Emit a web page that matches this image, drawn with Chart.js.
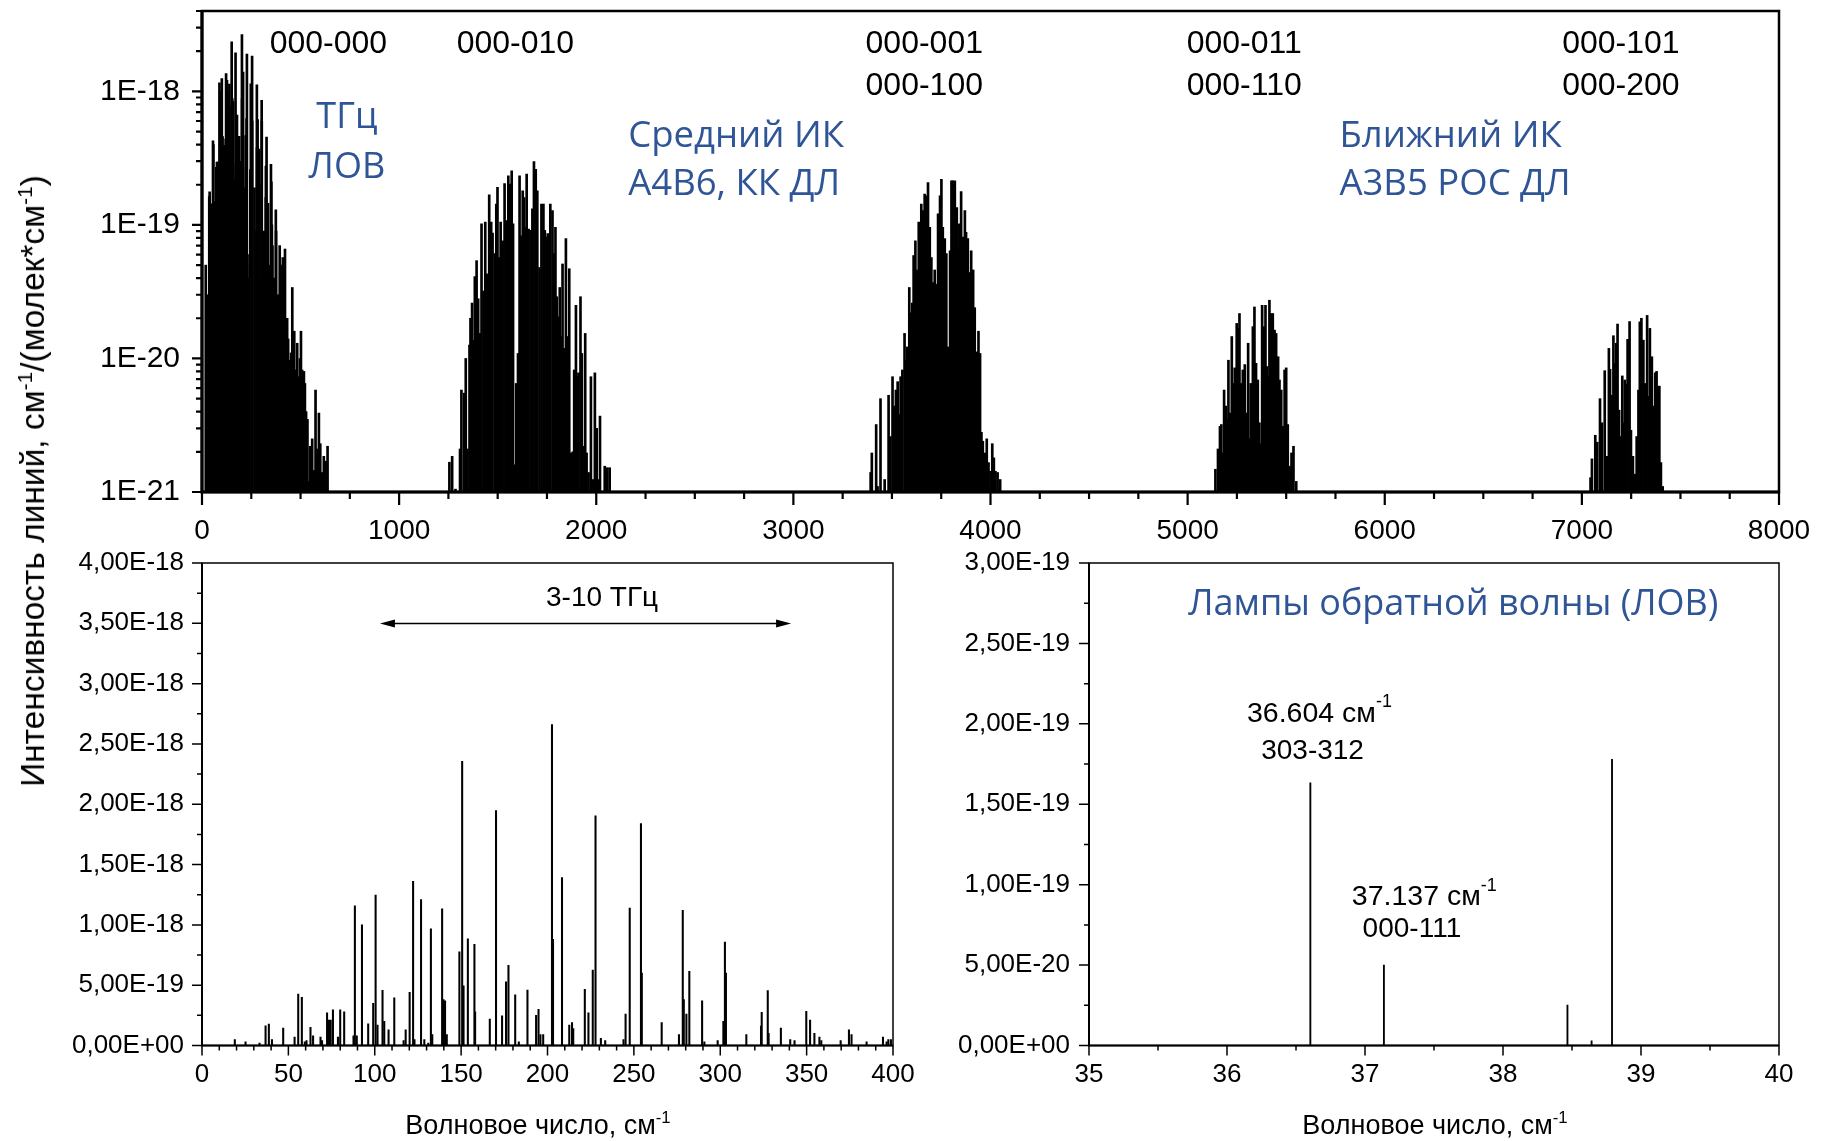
<!DOCTYPE html>
<html lang="ru">
<head>
<meta charset="utf-8">
<title>Спектр линий</title>
<script src="https://cdn.jsdelivr.net/npm/chart.js@4.4.1/dist/chart.umd.min.js"></script>
<style>
  html, body { margin: 0; padding: 0; background: #fff; }
  body { width: 1823px; height: 1141px; position: relative; overflow: hidden; font-family: "Liberation Sans", Arial, sans-serif; }
  canvas { position: absolute; }
  .title { position: absolute; white-space: nowrap; color: #000; }
  .sup { font-size: 62%; vertical-align: 0.6em; line-height: 0; }
  #yTitle { left: 33px; top: 481px; font-size: 33.5px; transform: translate(-50%, -50%) rotate(-90deg); }
  .xTitle { top: 1125px; font-size: 27px; transform: translate(-50%, -50%); }
</style>
</head>
<body>
<canvas id="topChart" width="1823" height="560" style="left:0;top:0"></canvas>
<canvas id="thzChart" width="960" height="601" style="left:0;top:540px"></canvas>
<canvas id="bwoChart" width="903" height="601" style="left:920px;top:540px"></canvas>
<div class="title" id="yTitle">Интенсивность линий, см<span class="sup">-1</span>/(молек*см<span class="sup">-1</span>)</div>
<div class="title xTitle" style="left:538px">Волновое число, см<span class="sup">-1</span></div>
<div class="title xTitle" style="left:1435px">Волновое число, см<span class="sup">-1</span></div>
<script>
// линии вращательного спектра 0-400 см-1 (нижний левый график), [волновое число, интенсивность]
const thzLines = [
    [19.0, 5.0e-20], [25.2, 3.0e-20], [33.3, 2.0e-20], [36.8, 1.63e-19], [38.7, 1.77e-19], [40.5, 5.0e-20],
    [47.0, 1.44e-19], [53.6, 7.0e-20], [55.7, 4.27e-19], [57.8, 4.0e-19], [59.5, 3.0e-20], [60.5, 4.0e-20],
    [62.8, 1.5e-19], [64.3, 8.0e-20], [68.6, 7.0e-20], [69.5, 4.0e-20], [72.4, 2.7e-19], [73.5, 2.1e-19],
    [74.5, 2.1e-19], [75.8, 2.95e-19], [78.7, 7.0e-20], [80.0, 2.95e-19], [82.3, 2.8e-19], [87.7, 8.0e-20],
    [88.5, 1.158e-18], [89.6, 8.0e-20], [92.6, 1.0e-18], [96.2, 1.8e-19], [99.1, 3.5e-19], [100.5, 1.246e-18],
    [101.6, 1.7e-19], [104.5, 4.58e-19], [105.5, 2.0e-19], [108.0, 1.3e-19], [111.3, 3.95e-19], [116.7, 4.0e-20],
    [117.9, 1.3e-19], [120.2, 4.4e-19], [122.2, 1.362e-18], [123.0, 5.0e-20], [126.8, 1.21e-18], [128.7, 5.0e-20],
    [131.0, 2.0e-20], [132.5, 9.68e-19], [133.3, 9.0e-20], [139.0, 1.133e-18], [139.8, 3.8e-19], [140.7, 3.7e-19],
    [141.7, 9.0e-20], [149.0, 7.77e-19], [150.6, 2.355e-18], [151.4, 4.94e-19], [153.9, 8.85e-19], [157.7, 8.38e-19],
    [158.1, 2.8e-19], [166.6, 2.2e-19], [170.2, 1.947e-18], [173.7, 2.46e-19], [176.0, 5.27e-19], [177.4, 6.65e-19],
    [181.3, 4.2e-19], [183.4, 3.0e-20], [188.4, 4.6e-19], [193.4, 2.5e-19], [194.8, 3.0e-19], [195.9, 9.0e-20],
    [197.5, 9.0e-20], [202.6, 2.66e-18], [203.2, 8.8e-19], [208.4, 1.393e-18], [212.6, 1.7e-19], [214.2, 1.9e-19],
    [214.9, 1.4e-19], [221.6, 4.66e-19], [223.7, 2.7e-19], [226.2, 6.26e-19], [227.8, 1.905e-18], [230.9, 6.0e-20],
    [233.4, 4.0e-20], [244.0, 5.0e-20], [245.2, 2.6e-19], [247.6, 1.139e-18], [254.1, 1.84e-18], [254.6, 6.0e-19],
    [266.1, 1.9e-19], [276.1, 9.0e-20], [278.3, 1.12e-18], [278.9, 3.8e-19], [280.4, 2.6e-19], [282.1, 6.15e-19],
    [289.5, 3.7e-19], [290.8, 3.0e-20], [298.5, 4.0e-20], [301.8, 2.0e-19], [302.7, 8.58e-19], [303.3, 6.0e-19],
    [315.1, 9.0e-20], [323.6, 1.6e-19], [324.0, 2.76e-19], [327.5, 4.55e-19], [328.0, 1.0e-19], [335.1, 1.45e-19],
    [340.5, 5.0e-20], [343.0, 4.0e-20], [349.8, 2.84e-19], [352.0, 2.1e-19], [354.5, 1.0e-19], [357.4, 7.0e-20],
    [358.5, 4.0e-20], [369.7, 4.0e-20], [374.5, 1.3e-19], [376.0, 9.0e-20], [384.7, 3.0e-20], [394.2, 7.0e-20],
    [396.3, 3.0e-20], [397.3, 5.0e-20], [398.8, 5.0e-20]
];

// хвост полосы 000-000 выше 400 см-1
const band000Tail = [
    [404, 3.2e-20], [410, 5.7e-20], [414, 2.5e-20], [421, 6.6e-20], [427, 1.45e-20], [432, 2.0e-20], [437, 1.4e-20],
    [446, 9.7e-21], [452, 1.1e-20], [458, 3.4e-20], [463, 9.0e-21], [468, 1.6e-20], [475, 8.2e-21], [483, 1.3e-20],
    [488, 6.0e-21], [492, 7.3e-21], [497, 1.0e-20], [502, 1.6e-20], [508, 8.2e-21], [512, 5.0e-21], [517, 8.0e-21],
    [522, 6.5e-21], [528, 4.0e-21], [535, 3.5e-21], [542, 1.2e-21], [549, 2.2e-21], [559, 2.5e-21], [569, 1.45e-21],
    [576, 5.8e-21], [583, 2.1e-21], [593, 3.9e-21], [600, 2.3e-21], [610, 1.4e-21], [618, 1.85e-21], [627, 1.7e-21],
    [637, 2.2e-21]
];

// полоса 000-010
const band010 = [
    [1255, 1.67e-21], [1269, 1.85e-21], [1286, 1.05e-21], [1309, 2.1e-21], [1316, 5.8e-21], [1330, 5.5e-21],
    [1338, 1.0e-20], [1347, 2.1e-21], [1357, 1.26e-20], [1362, 2.0e-20], [1370, 2.6e-20], [1379, 1.37e-20],
    [1384, 4.1e-20], [1393, 5.4e-20], [1401, 2.8e-20], [1410, 1.54e-20], [1418, 1.02e-19], [1428, 3.2e-20],
    [1437, 1.05e-19], [1447, 4.3e-20], [1457, 1.68e-19], [1467, 1.05e-19], [1474, 8.7e-20], [1486, 6.1e-20],
    [1493, 1.43e-19], [1499, 1.91e-19], [1508, 5.7e-20], [1515, 1.05e-19], [1525, 7.6e-20], [1535, 2.04e-19],
    [1545, 1.08e-19], [1554, 2.33e-19], [1562, 2.02e-19], [1571, 2.54e-19], [1578, 1.02e-19], [1588, 1.6e-21],
    [1594, 6.5e-21], [1603, 1.09e-20], [1611, 2.33e-19], [1620, 8.3e-20], [1627, 1.8e-19], [1634, 1.6e-19],
    [1642, 9.6e-20], [1647, 2.4e-19], [1657, 9.3e-20], [1669, 9.1e-20], [1676, 1.32e-19], [1684, 2.98e-19],
    [1693, 2.61e-19], [1701, 1.8e-19], [1712, 4.8e-20], [1722, 1.43e-19], [1732, 1.43e-19], [1739, 9.1e-20],
    [1747, 8.1e-20], [1754, 8.6e-20], [1761, 7.6e-20], [1767, 1.43e-19], [1778, 1.28e-19], [1786, 6.1e-20],
    [1793, 9.6e-20], [1800, 2.9e-20], [1807, 2.05e-20], [1815, 3.4e-20], [1822, 1.46e-20], [1829, 5.1e-20],
    [1837, 1.19e-20], [1846, 7.9e-20], [1854, 1.46e-20], [1863, 4.7e-20], [1871, 1.96e-21], [1881, 2.0e-21],
    [1888, 8.2e-21], [1897, 2.5e-20], [1903, 7.3e-21], [1910, 7.8e-21], [1920, 2.9e-20], [1927, 1.09e-20],
    [1937, 2.2e-21], [1944, 1.54e-20], [1951, 1.96e-21], [1961, 1.4e-21], [1973, 7.3e-21], [1985, 1.24e-21],
    [1993, 7.8e-21], [2002, 3.0e-21], [2012, 1.24e-21], [2019, 3.7e-21], [2043, 1.56e-21], [2056, 1.52e-21],
    [2068, 1.52e-21]
];

// полосы 000-001 / 000-100
const band001 = [
    [3392, 1.4e-21], [3398, 1.96e-21], [3420, 3.2e-21], [3427, 1.1e-21], [3442, 5.0e-21], [3463, 1.24e-21],
    [3483, 5.3e-21], [3492, 2.6e-21], [3503, 7.3e-21], [3512, 4.4e-21], [3520, 5.8e-21], [3529, 6.7e-21],
    [3537, 3.8e-21], [3544, 7.3e-21], [3553, 8.2e-21], [3564, 1.54e-20], [3571, 9.7e-21], [3578, 1.22e-20],
    [3588, 3.4e-20], [3595, 2.2e-20], [3603, 2.6e-20], [3610, 5.9e-20], [3619, 7.6e-20], [3627, 4.6e-20],
    [3636, 1.05e-19], [3642, 9.6e-20], [3649, 1.43e-19], [3656, 1.28e-19], [3666, 1.7e-19], [3675, 1.65e-19],
    [3683, 2.08e-19], [3692, 9.6e-20], [3700, 5.7e-20], [3708, 3.7e-20], [3717, 4.6e-20], [3727, 3.6e-20],
    [3734, 1.21e-19], [3744, 1.65e-19], [3751, 2.2e-19], [3758, 9.6e-20], [3768, 7.9e-20], [3776, 6.1e-20],
    [3785, 1.22e-20], [3795, 6.4e-20], [3802, 2.14e-19], [3808, 2.14e-19], [3819, 2.14e-19], [3829, 1.35e-19],
    [3836, 6.8e-20], [3842, 1.02e-19], [3851, 1.78e-19], [3859, 8.1e-20], [3870, 1.28e-19], [3876, 8.8e-20],
    [3885, 7.9e-20], [3893, 4.4e-20], [3902, 6.4e-20], [3912, 4.6e-20], [3920, 2.4e-20], [3931, 1.12e-20],
    [3939, 1.6e-20], [3947, 1.09e-20], [3954, 2.8e-21], [3961, 2.4e-21], [3971, 1.96e-21], [3981, 2.5e-21],
    [3990, 1.66e-21], [4000, 1.43e-21], [4009, 2.3e-21], [4017, 1.8e-21], [4025, 1.43e-21], [4036, 1.4e-21],
    [4049, 1.24e-21]
];

// полосы 000-011 / 000-110
const band011 = [
    [5141, 1.48e-21], [5154, 2.1e-21], [5164, 3.1e-21], [5171, 3.2e-21], [5178, 1.96e-21], [5185, 5.8e-21],
    [5193, 4.4e-21], [5200, 3.5e-21], [5207, 9.7e-21], [5215, 3.9e-21], [5224, 1.46e-20], [5232, 6.5e-21],
    [5239, 8.5e-21], [5249, 1.83e-20], [5256, 1.68e-20], [5263, 2.17e-20], [5269, 6.5e-21], [5280, 8.2e-21],
    [5290, 9.0e-21], [5298, 3.9e-21], [5307, 1.3e-20], [5314, 2.5e-21], [5320, 6.5e-21], [5331, 1.73e-20],
    [5339, 2.43e-20], [5347, 9.2e-21], [5356, 6.9e-21], [5364, 3.3e-21], [5371, 2.3e-21], [5378, 2.5e-20],
    [5386, 1.73e-20], [5395, 2.5e-20], [5402, 8.7e-21], [5408, 7.3e-21], [5415, 2.73e-20], [5424, 2.17e-20],
    [5432, 2.17e-20], [5441, 1.63e-20], [5449, 1.54e-20], [5459, 1.03e-20], [5466, 6.9e-21], [5475, 5.8e-21],
    [5483, 3.1e-21], [5492, 8.2e-21], [5500, 8.5e-21], [5508, 3.2e-21], [5517, 1.56e-21], [5527, 1.96e-21],
    [5537, 2.2e-21], [5551, 1.2e-21]
];

// полосы 000-101 / 000-200
const band101 = [
    [7044, 1.28e-21], [7051, 1.77e-21], [7068, 2.66e-21], [7078, 2.36e-21], [7092, 5.0e-21], [7102, 3.3e-21],
    [7116, 8.1e-21], [7126, 1.85e-21], [7137, 1.19e-20], [7143, 8.3e-21], [7154, 5.3e-21], [7160, 1.48e-20],
    [7167, 9.2e-21], [7174, 1.3e-20], [7181, 1.81e-20], [7189, 4.1e-21], [7198, 2.6e-21], [7205, 7.4e-21],
    [7212, 3.3e-21], [7218, 6.9e-21], [7225, 6.4e-21], [7232, 1.39e-20], [7242, 1.89e-20], [7249, 2.9e-21],
    [7259, 1.85e-21], [7270, 1.36e-21], [7278, 2.6e-21], [7287, 5.8e-21], [7294, 1.88e-20], [7302, 2.0e-20],
    [7312, 1.37e-20], [7321, 6.5e-21], [7331, 2.1e-20], [7338, 5.2e-21], [7345, 1.68e-20], [7355, 1.03e-20],
    [7365, 4.4e-21], [7372, 7.8e-21], [7379, 8.0e-21], [7386, 6.2e-21], [7393, 6.2e-21], [7401, 1.66e-21],
    [7410, 1.1e-21]
];

// линии в диапазоне ЛОВ 35-40 см-1
const bwoLines = [
    [36.604, 1.633e-19], [37.137, 5.0e-20], [38.467, 2.52e-20], [38.642, 2.9e-21], [38.79, 1.78e-19]
];

const topSpectrum = [...thzLines, ...band000Tail, ...band010, ...band001, ...band011, ...band101];

const FONT = "Liberation Sans";
const BLUE = "#2f5597";

// форматирование подписей вида 3,50E-18
const sciComma = (v) => {
    const [m, e] = Number(v).toExponential(2).split("e");
    const ex = parseInt(e, 10);
    return m.replace(".", ",") + "E" + (ex < 0 ? "-" : "+") + String(Math.abs(ex)).padStart(2, "0");
};

const linTicks = (min, max, step, majorEvery, majorLen, minorLen) => {
    const out = [];
    const n = Math.round((max - min) / step);
    for (let i = 0; i <= n; i++) {
        out.push({ v: min + i * step, len: i % majorEvery === 0 ? majorLen : minorLen });
    }
    return out;
};

const logTicks = (minExp, maxExp, maxVal, majorLen, minorLen) => {
    const out = [];
    for (let e = minExp; e <= maxExp; e++) {
        for (let k = 1; k <= 9; k++) {
            const v = k * Math.pow(10, e);
            if (v <= maxVal * 1.0001) out.push({ v, len: k === 1 ? majorLen : minorLen });
        }
    }
    return out;
};

// рамка и засечки осей
const frameTicks = {
    id: "frameTicks",
    afterDraw(chart, args, o) {
        const { ctx, chartArea: a, scales } = chart;
        ctx.save();
        ctx.strokeStyle = "#000";
        ctx.lineWidth = o.tickWidth;
        ctx.beginPath();
        o.xTicks.forEach((t) => {
            const p = scales.x.getPixelForValue(t.v);
            ctx.moveTo(p, a.bottom);
            ctx.lineTo(p, a.bottom + t.len);
        });
        o.yTicks.forEach((t) => {
            const p = scales.y.getPixelForValue(t.v);
            ctx.moveTo(a.left, p);
            ctx.lineTo(a.left - t.len, p);
        });
        ctx.stroke();
        ctx.lineWidth = o.frameWidth;
        ctx.strokeRect(a.left, a.top, a.right - a.left, a.bottom - a.top);
        ctx.lineWidth = o.axisWidth;
        ctx.beginPath();
        ctx.moveTo(a.left, a.top);
        ctx.lineTo(a.left, a.bottom);
        ctx.lineTo(a.right, a.bottom);
        ctx.stroke();
        ctx.restore();
    }
};

const drawRich = (ctx, parts, x, y, size, family, color, align) => {
    const fBase = `${size}px "${family}"`;
    const fSup = `${Math.round(size * 0.62)}px "${family}"`;
    let w = 0;
    parts.forEach(([t, sup]) => {
        ctx.font = sup ? fSup : fBase;
        w += ctx.measureText(t).width;
    });
    let cx = align === "left" ? x : x - w / 2;
    ctx.fillStyle = color;
    ctx.textAlign = "left";
    ctx.textBaseline = "middle";
    parts.forEach(([t, sup]) => {
        ctx.font = sup ? fSup : fBase;
        ctx.fillText(t, cx, sup ? y - size * 0.42 : y);
        cx += ctx.measureText(t).width;
    });
};

// надписи и стрелка в координатах данных
const textMarks = {
    id: "textMarks",
    afterDraw(chart, args, o) {
        const { ctx, scales: { x, y } } = chart;
        ctx.save();
        (o.items || []).forEach((m) => {
            drawRich(ctx, m.parts, x.getPixelForValue(m.x), y.getPixelForValue(m.y),
                m.size, m.family || FONT, m.color || "#000", m.align);
        });
        if (o.arrow) {
            const x1 = x.getPixelForValue(o.arrow.from);
            const x2 = x.getPixelForValue(o.arrow.to);
            const py = Math.round(y.getPixelForValue(o.arrow.y)) + 0.5;
            const hl = 15, hw = 4;
            ctx.strokeStyle = "#000";
            ctx.fillStyle = "#000";
            ctx.lineWidth = 1.3;
            ctx.beginPath();
            ctx.moveTo(x1 + hl - 2, py);
            ctx.lineTo(x2 - hl + 2, py);
            ctx.stroke();
            ctx.beginPath();
            ctx.moveTo(x1, py); ctx.lineTo(x1 + hl, py - hw); ctx.lineTo(x1 + hl, py + hw); ctx.closePath();
            ctx.moveTo(x2, py); ctx.lineTo(x2 - hl, py - hw); ctx.lineTo(x2 - hl, py + hw); ctx.closePath();
            ctx.fill();
        }
        ctx.restore();
    }
};

const hiddenGrid = (len) => ({ drawOnChartArea: false, color: "transparent", tickLength: len });

// фиксированный размер оси без добавочных отступов под крайние подписи
const fixSize = (prop, size) => (s) => {
    s[prop] = size;
    s.paddingTop = 0;
    s.paddingBottom = 0;
    s.paddingLeft = 0;
    s.paddingRight = 0;
};

const baseOptions = (padding) => ({
    responsive: false,
    animation: false,
    devicePixelRatio: 1,
    layout: { padding },
    plugins: { legend: { display: false }, tooltip: { enabled: false } }
});

const toXY = (arr) => arr.map(([x, y]) => ({ x, y }));

// верхний график, логарифмическая шкала
const topOpts = baseOptions({ top: 11, right: 44, left: 0, bottom: 0 });
topOpts.plugins.frameTicks = {
    xTicks: linTicks(0, 8000, 250, 4, 13, 7),
    yTicks: logTicks(-21, -18, 4e-18, 10, 6),
    tickWidth: 2.2, frameWidth: 2.5, axisWidth: 3.2
};
topOpts.plugins.textMarks = {
    items: [
        { parts: [["000-000"]], x: 641, y: 2.24e-18, size: 32 },
        { parts: [["000-010"]], x: 1590, y: 2.24e-18, size: 32 },
        { parts: [["000-001"]], x: 3664, y: 2.24e-18, size: 32 },
        { parts: [["000-100"]], x: 3664, y: 1.09e-18, size: 32 },
        { parts: [["000-011"]], x: 5287, y: 2.24e-18, size: 32 },
        { parts: [["000-110"]], x: 5287, y: 1.09e-18, size: 32 },
        { parts: [["000-101"]], x: 7198, y: 2.24e-18, size: 32 },
        { parts: [["000-200"]], x: 7198, y: 1.09e-18, size: 32 },
        { parts: [["ТГц"]], x: 735, y: 6.4e-19, size: 36, family: "Open Sans", color: BLUE },
        { parts: [["ЛОВ"]], x: 735, y: 2.7e-19, size: 36, family: "Open Sans", color: BLUE },
        { parts: [["Средний ИК"]], x: 2162, y: 4.6e-19, size: 36.5, family: "Open Sans", color: BLUE, align: "left" },
        { parts: [["А4В6, КК ДЛ"]], x: 2162, y: 2.0e-19, size: 36.5, family: "Open Sans", color: BLUE, align: "left" },
        { parts: [["Ближний ИК"]], x: 5770, y: 4.6e-19, size: 36.5, family: "Open Sans", color: BLUE, align: "left" },
        { parts: [["А3В5 РОС ДЛ"]], x: 5770, y: 2.0e-19, size: 36.5, family: "Open Sans", color: BLUE, align: "left" }
    ]
};
topOpts.scales = {
    x: {
        type: "linear", min: 0, max: 8000, offset: false,
        grid: { ...hiddenGrid(13), offset: false },
        border: { display: false },
        ticks: { stepSize: 1000, autoSkip: false, maxRotation: 0, padding: 9, color: "#000",
                 font: { family: FONT, size: 28 }, callback: (v) => String(v) },
        afterFit: fixSize("height", 68)
    },
    y: {
        type: "logarithmic", min: 1e-21, max: 4e-18,
        grid: hiddenGrid(10),
        border: { display: false },
        ticks: { autoSkip: false, padding: 12, color: "#000", font: { family: FONT, size: 30 },
                 callback: (v) => {
                     const e = Math.log10(v);
                     return Math.abs(e - Math.round(e)) < 1e-6 ? "1E" + Math.round(e) : null;
                 } },
        afterFit: fixSize("width", 202)
    }
};

new Chart(document.getElementById("topChart"), {
    type: "bar",
    data: { datasets: [{ data: toXY(topSpectrum), backgroundColor: "#000", borderWidth: 0, barThickness: 2 }] },
    options: topOpts,
    plugins: [frameTicks, textMarks]
});

// нижний левый график 0-400 см-1
const thzOpts = baseOptions({ top: 23, right: 67, left: 0, bottom: 0 });
thzOpts.plugins.frameTicks = {
    xTicks: linTicks(0, 400, 10, 5, 10, 5),
    yTicks: linTicks(0, 4e-18, 2.5e-19, 2, 10, 5),
    tickWidth: 1.5, frameWidth: 1.5, axisWidth: 2
};
thzOpts.plugins.textMarks = {
    items: [{ parts: [["3-10 ТГц"]], x: 231.6, y: 3.71e-18, size: 28 }],
    arrow: { from: 103, to: 341, y: 3.5e-18 }
};
thzOpts.scales = {
    x: {
        type: "linear", min: 0, max: 400, offset: false,
        grid: { ...hiddenGrid(10), offset: false },
        border: { display: false },
        ticks: { stepSize: 50, autoSkip: false, maxRotation: 0, padding: 4, color: "#000",
                 font: { family: FONT, size: 26 }, callback: (v) => String(v) },
        afterFit: fixSize("height", 95.5)
    },
    y: {
        type: "linear", min: 0, max: 4e-18,
        grid: hiddenGrid(10),
        border: { display: false },
        ticks: { stepSize: 5e-19, autoSkip: false, padding: 8, color: "#000",
                 font: { family: FONT, size: 26 }, callback: sciComma },
        afterFit: fixSize("width", 202)
    }
};

new Chart(document.getElementById("thzChart"), {
    type: "bar",
    data: { datasets: [{ data: toXY(thzLines), backgroundColor: "#000", borderWidth: 0, barThickness: 1.4 }] },
    options: thzOpts,
    plugins: [frameTicks, textMarks]
});

// нижний правый график 35-40 см-1
const bwoOpts = baseOptions({ top: 23, right: 44, left: 0, bottom: 0 });
bwoOpts.plugins.frameTicks = {
    xTicks: linTicks(35, 40, 0.5, 2, 10, 5),
    yTicks: linTicks(0, 3e-19, 2.5e-20, 2, 10, 5),
    tickWidth: 1.5, frameWidth: 1.5, axisWidth: 2
};
bwoOpts.plugins.textMarks = {
    items: [
        { parts: [["Лампы обратной волны (ЛОВ)"]], x: 37.64, y: 2.74e-19, size: 36, family: "Open Sans", color: BLUE },
        { parts: [["36.604 см"], ["-1", true]], x: 36.67, y: 2.06e-19, size: 28.5 },
        { parts: [["303-312"]], x: 36.62, y: 1.83e-19, size: 28 },
        { parts: [["37.137 см"], ["-1", true]], x: 37.43, y: 0.92e-19, size: 28.5 },
        { parts: [["000-111"]], x: 37.34, y: 0.72e-19, size: 28 }
    ]
};
bwoOpts.scales = {
    x: {
        type: "linear", min: 35, max: 40, offset: false,
        grid: { ...hiddenGrid(10), offset: false },
        border: { display: false },
        ticks: { stepSize: 1, autoSkip: false, maxRotation: 0, padding: 4, color: "#000",
                 font: { family: FONT, size: 26 }, callback: (v) => String(v) },
        afterFit: fixSize("height", 95.5)
    },
    y: {
        type: "linear", min: 0, max: 3e-19,
        grid: hiddenGrid(10),
        border: { display: false },
        ticks: { stepSize: 5e-20, autoSkip: false, padding: 9, color: "#000",
                 font: { family: FONT, size: 26 }, callback: sciComma },
        afterFit: fixSize("width", 169)
    }
};

new Chart(document.getElementById("bwoChart"), {
    type: "bar",
    data: { datasets: [{ data: toXY(bwoLines), backgroundColor: "#000", borderWidth: 0, barThickness: 1.2 }] },
    options: bwoOpts,
    plugins: [frameTicks, textMarks]
});
</script>
</body>
</html>
